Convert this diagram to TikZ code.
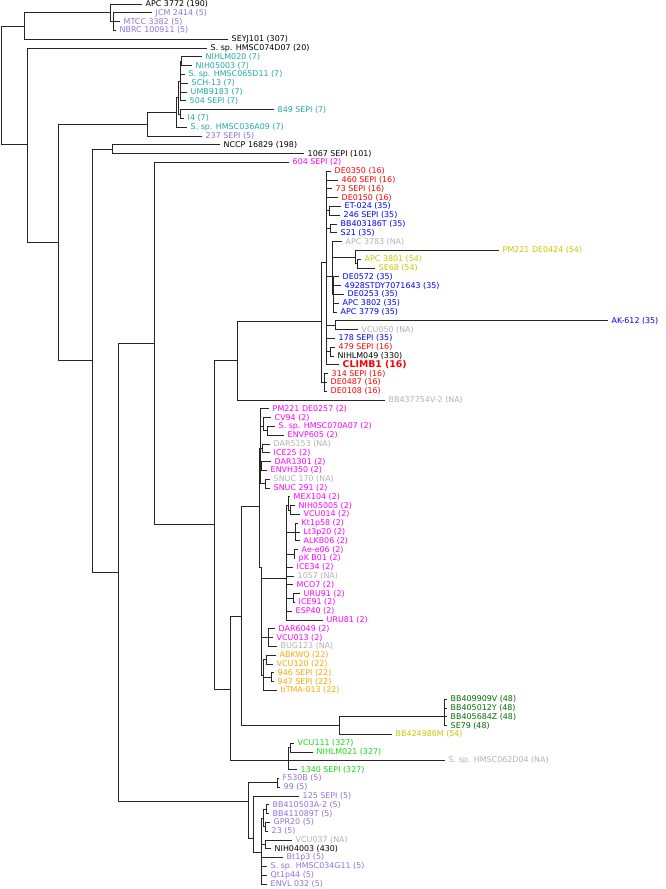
\documentclass[tikz,border=0pt]{standalone}
\usepackage{fontspec}
\setmainfont{DejaVu Sans}
\definecolor{c2}{RGB}{255,0,255}
\definecolor{c5}{RGB}{147,112,219}
\definecolor{c7}{RGB}{32,170,165}
\definecolor{c16}{RGB}{255,0,0}
\definecolor{c22}{RGB}{255,165,0}
\definecolor{c35}{RGB}{0,0,255}
\definecolor{c48}{RGB}{0,110,0}
\definecolor{c54}{RGB}{200,200,0}
\definecolor{c327}{RGB}{20,220,20}
\definecolor{cna}{RGB}{178,178,178}
\tikzset{
  leaf/.style={anchor=west,inner xsep=2.6pt,inner ysep=0.4pt,font=\fontsize{5.95}{7}\selectfont},
  stblk/.style={leaf,text=black},
  st2/.style={leaf,text=c2},
  st5/.style={leaf,text=c5},
  st7/.style={leaf,text=c7},
  st16/.style={leaf,text=c16},
  st22/.style={leaf,text=c22},
  st35/.style={leaf,text=c35},
  st48/.style={leaf,text=c48},
  st54/.style={leaf,text=c54},
  st327/.style={leaf,text=c327},
  stna/.style={leaf,text=cna},
  climb/.style={leaf,text=c16,font=\fontsize{7}{8}\selectfont\bfseries},
  br/.style={draw=black!85,line width=0.7pt}
}

\begin{document}
\begin{tikzpicture}[x=0.75pt,y=-0.75pt]
\useasboundingbox (0,0) rectangle (665,889);

% Inner nodes
\coordinate (root) at (1,85);
\coordinate (A) at (24,26);
\coordinate (B) at (110,12.8);
\coordinate (C) at (113,21.6);
\coordinate (E) at (27,144.5);
\coordinate (F) at (58,242);
\coordinate (G) at (147,124);
\coordinate (T) at (176,112);
\coordinate (T1) at (178,97.4);
\coordinate (T2) at (180,81);
\coordinate (T3) at (180,114);
\coordinate (T4) at (181,61.2);
\coordinate (H) at (92,360.6);
\coordinate (I) at (112,149.2);
\coordinate (J) at (118,572);
\coordinate (K) at (154,343);
\coordinate (M) at (214,524);
\coordinate (N) at (237.7,360);
\coordinate (N1) at (321.7,321);
\coordinate (Z1) at (326,262);
\coordinate (Z2) at (329.3,210.8);
\coordinate (Z3) at (330.7,228.4);
\coordinate (Z4) at (332,276);
\coordinate (Z5) at (355,257);
\coordinate (Z6) at (357.3,263.6);
\coordinate (Z7) at (333.5,294.4);
\coordinate (Z8) at (335,325.2);
\coordinate (Z9) at (324,382.4);
\coordinate (Z10) at (330,351.6);
\coordinate (Q) at (230,689);
\coordinate (R) at (241.7,616.7);
\coordinate (R1) at (259,506.7);
\coordinate (R2) at (339.3,725.7);
\coordinate (U1) at (260,448.4);
\coordinate (U2) at (263,426.4);
\coordinate (U3) at (267.7,430.8);
\coordinate (U4) at (262.5,448.4);
\coordinate (U5) at (261.7,466);
\coordinate (U6) at (265.7,483.6);
\coordinate (U7) at (261.5,567);
\coordinate (W) at (286.7,578);
\coordinate (W1) at (288.3,505);
\coordinate (W2) at (290,510);
\coordinate (W3) at (295,532);
\coordinate (W4) at (294,554);
\coordinate (W5) at (293.3,598);
\coordinate (X) at (268.3,637.6);
\coordinate (Y) at (263.3,675);
\coordinate (Y1) at (266,659.6);
\coordinate (Y2) at (271,677.2);
\coordinate (G48) at (444,716.7);
\coordinate (Gn) at (288.3,760.8);
\coordinate (Gn1) at (290,747.6);
\coordinate (P) at (248.3,801);
\coordinate (P1) at (277,782.8);
\coordinate (P2) at (253.3,838);
\coordinate (P3) at (261.7,852);
\coordinate (P45) at (263.3,818);
\coordinate (P4) at (266,809.2);
\coordinate (P5) at (265,826.8);
\coordinate (P6) at (265,844.4);

% Leaves
\node[stblk] (apc3772) at (142,4.0) {APC 3772 (190)};
\node[st5] (jcm2414) at (152,12.8) {JCM 2414 (5)};
\node[st5] (mtcc3382) at (120,21.6) {MTCC 3382 (5)};
\node[st5] (nbrc100911) at (116,30.4) {NBRC 100911 (5)};
\node[stblk] (seyj101) at (228,39.2) {SEYJ101 (307)};
\node[stblk] (hmsc074d07) at (207,48.0) {S. sp. HMSC074D07 (20)};
\node[st7] (nihlm020) at (202,56.8) {NIHLM020 (7)};
\node[st7] (nih05003) at (192,65.6) {NIH05003 (7)};
\node[st7] (hmsc065d11) at (185,74.4) {S. sp. HMSC065D11 (7)};
\node[st7] (sch13) at (188,83.2) {SCH-13 (7)};
\node[st7] (umb9183) at (187,92.0) {UMB9183 (7)};
\node[st7] (sepi504) at (186,100.8) {504 SEPI (7)};
\node[st7] (sepi849) at (274,109.6) {849 SEPI (7)};
\node[st7] (i4) at (184,118.4) {I4 (7)};
\node[st7] (hmsc036a09) at (187,127.2) {S. sp. HMSC036A09 (7)};
\node[st5] (sepi237) at (202,136.0) {237 SEPI (5)};
\node[stblk] (nccp16829) at (220,144.8) {NCCP 16829 (198)};
\node[stblk] (sepi1067) at (304,153.6) {1067 SEPI (101)};
\node[st2] (sepi604) at (289,162.4) {604 SEPI (2)};
\node[st16] (de0350) at (331,171.2) {DE0350 (16)};
\node[st16] (sepi460) at (338,180.0) {460 SEPI (16)};
\node[st16] (sepi73) at (332,188.8) {73 SEPI (16)};
\node[st16] (de0150) at (338,197.6) {DE0150 (16)};
\node[st35] (et024) at (341,206.4) {ET-024 (35)};
\node[st35] (sepi246) at (340,215.2) {246 SEPI (35)};
\node[st35] (bb403186t) at (337,224.0) {BB403186T (35)};
\node[st35] (s21) at (337,232.8) {S21 (35)};
\node[stna] (apc3783) at (342,241.6) {APC 3783 (NA)};
\node[st54] (de0424) at (499,250.4) {PM221 DE0424 (54)};
\node[st54] (apc3801) at (361,259.2) {APC 3801 (54)};
\node[st54] (se68) at (375,268.0) {SE68 (54)};
\node[st35] (de0572) at (339,276.8) {DE0572 (35)};
\node[st35] (stdy) at (341,285.6) {4928STDY7071643 (35)};
\node[st35] (de0253) at (344,294.4) {DE0253 (35)};
\node[st35] (apc3802) at (339,303.2) {APC 3802 (35)};
\node[st35] (apc3779) at (337,312.0) {APC 3779 (35)};
\node[st35] (ak612) at (608,320.8) {AK-612 (35)};
\node[stna] (vcu050) at (358,329.6) {VCU050 (NA)};
\node[st35] (sepi178) at (335,338.4) {178 SEPI (35)};
\node[st16] (sepi479) at (335,347.2) {479 SEPI (16)};
\node[stblk] (nihlm049) at (334,356.0) {NIHLM049 (330)};
\node[climb] (climb1) at (339,364.8) {CLIMB1 (16)};
\node[st16] (sepi314) at (328,373.6) {314 SEPI (16)};
\node[st16] (de0487) at (327,382.4) {DE0487 (16)};
\node[st16] (de0108) at (327,391.2) {DE0108 (16)};
\node[stna] (bb437754) at (385,400.0) {BB437754V-2 (NA)};
\node[st2] (de0257) at (269,408.8) {PM221 DE0257 (2)};
\node[st2] (cv94) at (271,417.6) {CV94 (2)};
\node[st2] (hmsc070a07) at (275,426.4) {S. sp. HMSC070A07 (2)};
\node[st2] (envp605) at (284,435.2) {ENVP605 (2)};
\node[stna] (dar5153) at (270,444.0) {DAR5153 (NA)};
\node[st2] (ice25) at (270,452.8) {ICE25 (2)};
\node[st2] (dar1301) at (271,461.6) {DAR1301 (2)};
\node[st2] (envh350) at (267,470.4) {ENVH350 (2)};
\node[stna] (snuc170) at (270,479.2) {SNUC 170 (NA)};
\node[st2] (snuc291) at (270,488.0) {SNUC 291 (2)};
\node[st2] (mex104) at (290,496.8) {MEX104 (2)};
\node[st2] (nih05005) at (295,505.6) {NIH05005 (2)};
\node[st2] (vcu014) at (300,514.4) {VCU014 (2)};
\node[st2] (kt1p58) at (298,523.2) {Kt1p58 (2)};
\node[st2] (lt3p20) at (300,532.0) {Lt3p20 (2)};
\node[st2] (alkb06) at (300,540.8) {ALKB06 (2)};
\node[st2] (aee06) at (298,549.6) {Ae-e06 (2)};
\node[st2] (pkb01) at (295,558.4) {pK B01 (2)};
\node[st2] (ice34) at (293,567.2) {ICE34 (2)};
\node[stna] (n1057) at (294,576.0) {1057 (NA)};
\node[st2] (mco7) at (293,584.8) {MCO7 (2)};
\node[st2] (uru91) at (300,593.6) {URU91 (2)};
\node[st2] (ice91) at (295,602.4) {ICE91 (2)};
\node[st2] (esp40) at (292,611.2) {ESP40 (2)};
\node[st2] (uru81) at (323,620.0) {URU81 (2)};
\node[st2] (dar6049) at (275,628.8) {DAR6049 (2)};
\node[st2] (vcu013) at (273,637.6) {VCU013 (2)};
\node[stna] (bug123) at (277,646.4) {BUG123 (NA)};
\node[st22] (abkwq) at (276,655.2) {ABKWQ (22)};
\node[st22] (vcu120) at (273,664.0) {VCU120 (22)};
\node[st22] (sepi946) at (274,672.8) {946 SEPI (22)};
\node[st22] (sepi947) at (274,681.6) {947 SEPI (22)};
\node[st22] (btma013) at (277,690.4) {bTMA-013 (22)};
\node[st48] (bb409909v) at (447,699.2) {BB409909V (48)};
\node[st48] (bb405012y) at (447,708.0) {BB405012Y (48)};
\node[st48] (bb405684z) at (447,716.8) {BB405684Z (48)};
\node[st48] (se79) at (447,725.6) {SE79 (48)};
\node[st54] (bb424986m) at (392,734.4) {BB424986M (54)};
\node[st327] (vcu111) at (294,743.2) {VCU111 (327)};
\node[st327] (nihlm021) at (313,752.0) {NIHLM021 (327)};
\node[stna] (hmsc062d04) at (445,760.8) {S. sp. HMSC062D04 (NA)};
\node[st327] (sepi1340) at (297,769.6) {1340 SEPI (327)};
\node[st5] (f530b) at (279,778.4) {F530B (5)};
\node[st5] (n99) at (280,787.2) {99 (5)};
\node[st5] (sepi125) at (299,796.0) {125 SEPI (5)};
\node[st5] (bb410503) at (269,804.8) {BB410503A-2 (5)};
\node[st5] (bb411089t) at (269,813.6) {BB411089T (5)};
\node[st5] (gpr20) at (270,822.4) {GPR20 (5)};
\node[st5] (n23) at (268,831.2) {23 (5)};
\node[stna] (vcu037) at (292,840.0) {VCU037 (NA)};
\node[stblk] (nih04003) at (271,848.8) {NIH04003 (430)};
\node[st5] (bt1p3) at (283,857.6) {Bt1p3 (5)};
\node[st5] (hmsc034g11) at (267,866.4) {S. sp. HMSC034G11 (5)};
\node[st5] (qt1p44) at (267,875.2) {Qt1p44 (5)};
\node[st5] (envl032) at (267,884.0) {ENVL 032 (5)};

% Branches
\foreach \c in {A,E} \draw[br] (root) |- (\c);
\foreach \c in {B,seyj101} \draw[br] (A) |- (\c);
\foreach \c in {apc3772,C} \draw[br] (B) |- (\c);
\foreach \c in {jcm2414,mtcc3382,nbrc100911} \draw[br] (C) |- (\c);
\foreach \c in {hmsc074d07,F} \draw[br] (E) |- (\c);
\foreach \c in {G,H} \draw[br] (F) |- (\c);
\foreach \c in {T,sepi237} \draw[br] (G) |- (\c);
\foreach \c in {T1,hmsc036a09} \draw[br] (T) |- (\c);
\foreach \c in {T2,T3} \draw[br] (T1) |- (\c);
\foreach \c in {T4,hmsc065d11,sch13,umb9183,sepi504} \draw[br] (T2) |- (\c);
\foreach \c in {nihlm020,nih05003} \draw[br] (T4) |- (\c);
\foreach \c in {sepi849,i4} \draw[br] (T3) |- (\c);
\foreach \c in {I,J} \draw[br] (H) |- (\c);
\foreach \c in {nccp16829,sepi1067} \draw[br] (I) |- (\c);
\foreach \c in {K,P} \draw[br] (J) |- (\c);
\foreach \c in {sepi604,M} \draw[br] (K) |- (\c);
\foreach \c in {N,Q} \draw[br] (M) |- (\c);
\foreach \c in {N1,bb437754} \draw[br] (N) |- (\c);
\foreach \c in {Z1,Z9} \draw[br] (N1) |- (\c);
\foreach \c in {de0350,sepi460,sepi73,de0150,Z2,Z3,Z4,Z8,sepi178,Z10,climb1}
  \draw[br] (Z1) |- (\c);
\foreach \c in {et024,sepi246} \draw[br] (Z2) |- (\c);
\foreach \c in {bb403186t,s21} \draw[br] (Z3) |- (\c);
\foreach \c in {apc3783,Z5,Z7} \draw[br] (Z4) |- (\c);
\foreach \c in {de0424,Z6} \draw[br] (Z5) |- (\c);
\foreach \c in {apc3801,se68} \draw[br] (Z6) |- (\c);
\foreach \c in {de0572,stdy,de0253,apc3802,apc3779} \draw[br] (Z7) |- (\c);
\foreach \c in {ak612,vcu050} \draw[br] (Z8) |- (\c);
\foreach \c in {sepi479,nihlm049} \draw[br] (Z10) |- (\c);
\foreach \c in {sepi314,de0487,de0108} \draw[br] (Z9) |- (\c);
\foreach \c in {R,Gn,hmsc062d04} \draw[br] (Q) |- (\c);
\foreach \c in {R1,R2} \draw[br] (R) |- (\c);
\foreach \c in {U1,U7} \draw[br] (R1) |- (\c);
\foreach \c in {de0257,U2,U4,U5,U6} \draw[br] (U1) |- (\c);
\foreach \c in {cv94,U3} \draw[br] (U2) |- (\c);
\foreach \c in {hmsc070a07,envp605} \draw[br] (U3) |- (\c);
\foreach \c in {dar5153,ice25} \draw[br] (U4) |- (\c);
\foreach \c in {dar1301,envh350} \draw[br] (U5) |- (\c);
\foreach \c in {snuc170,snuc291} \draw[br] (U6) |- (\c);
\foreach \c in {W,X,Y} \draw[br] (U7) |- (\c);
\foreach \c in {W1,W3,W4,ice34,n1057,mco7,W5,esp40,uru81} \draw[br] (W) |- (\c);
\foreach \c in {mex104,W2} \draw[br] (W1) |- (\c);
\foreach \c in {nih05005,vcu014} \draw[br] (W2) |- (\c);
\foreach \c in {kt1p58,lt3p20,alkb06} \draw[br] (W3) |- (\c);
\foreach \c in {aee06,pkb01} \draw[br] (W4) |- (\c);
\foreach \c in {uru91,ice91} \draw[br] (W5) |- (\c);
\foreach \c in {dar6049,vcu013,bug123} \draw[br] (X) |- (\c);
\foreach \c in {Y1,Y2,btma013} \draw[br] (Y) |- (\c);
\foreach \c in {abkwq,vcu120} \draw[br] (Y1) |- (\c);
\foreach \c in {sepi946,sepi947} \draw[br] (Y2) |- (\c);
\foreach \c in {G48,bb424986m} \draw[br] (R2) |- (\c);
\foreach \c in {bb409909v,bb405012y,bb405684z,se79} \draw[br] (G48) |- (\c);
\foreach \c in {Gn1,sepi1340} \draw[br] (Gn) |- (\c);
\foreach \c in {vcu111,nihlm021} \draw[br] (Gn1) |- (\c);
\foreach \c in {P1,P2} \draw[br] (P) |- (\c);
\foreach \c in {f530b,n99} \draw[br] (P1) |- (\c);
\foreach \c in {sepi125,P3} \draw[br] (P2) |- (\c);
\foreach \c in {P45,P6,bt1p3,hmsc034g11,qt1p44,envl032} \draw[br] (P3) |- (\c);
\foreach \c in {P4,P5} \draw[br] (P45) |- (\c);
\foreach \c in {bb410503,bb411089t} \draw[br] (P4) |- (\c);
\foreach \c in {gpr20,n23} \draw[br] (P5) |- (\c);
\foreach \c in {vcu037,nih04003} \draw[br] (P6) |- (\c);
\end{tikzpicture}
\end{document}
